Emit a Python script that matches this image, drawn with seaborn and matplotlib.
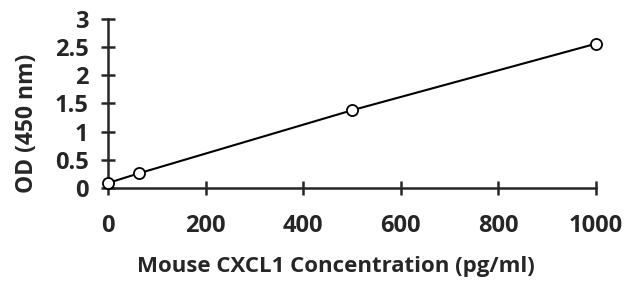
import numpy as np
import pandas as pd
import matplotlib
matplotlib.use("Agg")
import matplotlib.pyplot as plt
import seaborn as sns

# standard curve data
conc = [0, 62.5, 500, 1000]
od = [0.09, 0.26, 1.38, 2.56]

x_ticks = [0, 200, 400, 600, 800, 1000]
y_ticks = [0, 0.5, 1, 1.5, 2, 2.5, 3]
y_tick_labels = ["0", "0.5", "1", "1.5", "2", "2.5", "3"]

df = pd.DataFrame({"conc": conc, "od": od})

sns.set_style("ticks")
plt.rcParams["font.family"] = ["Open Sans", "DejaVu Sans"]
plt.rcParams["font.weight"] = "bold"

fig = plt.figure(figsize=(6.28, 2.82), dpi=100)
ax = fig.add_axes([0.172, 0.333, 0.777, 0.60])

sns.lineplot(data=df, x="conc", y="od", ax=ax, color="black", linewidth=1.5,
             marker="o", markersize=8, markerfacecolor="white",
             markeredgecolor="black", markeredgewidth=1.3, clip_on=False, zorder=5)

ax.set_xlim(0, 1000)
ax.set_ylim(0, 3)
ax.set_xticks(x_ticks)
ax.set_yticks(y_ticks)
ax.set_yticklabels(y_tick_labels)
ax.tick_params(direction="inout", length=10, width=1.8, labelsize=17)
ax.tick_params(axis="x", pad=14)
ax.tick_params(axis="y", pad=9)
for lab in ax.get_xticklabels() + ax.get_yticklabels():
    lab.set_fontweight("bold")

sns.despine(ax=ax)
ax.spines["left"].set_linewidth(1.8)
ax.spines["bottom"].set_linewidth(1.8)

ax.set_xlabel("Mouse CXCL1 Concentration (pg/ml)", fontsize=16, fontweight="bold")
ax.set_ylabel("OD (450 nm)", fontsize=16.5, fontweight="bold")
ax.xaxis.set_label_coords(0.467, -0.40)
ax.yaxis.set_label_coords(-0.142, 0.385)

fig.savefig("out.png", dpi=100)
